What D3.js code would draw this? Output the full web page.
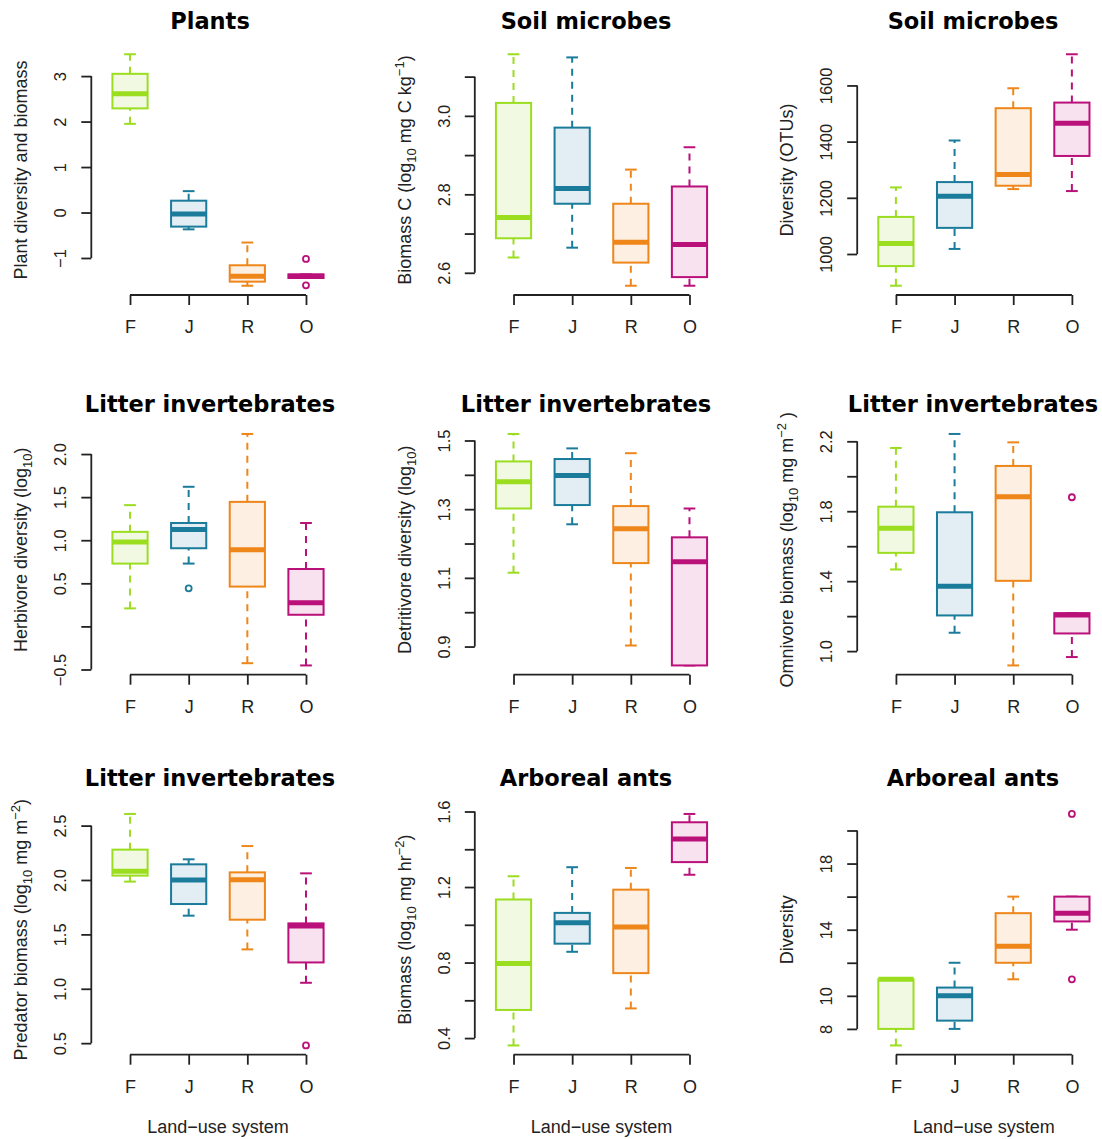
<!DOCTYPE html>
<html><head><meta charset="utf-8">
<script src="https://cdn.jsdelivr.net/npm/d3@7"></script>
<style>
body{margin:0;background:#fff}
text{font-family:"Liberation Sans",Arial,sans-serif;fill:#222}
.title{font-family:"DejaVu Sans",Verdana,sans-serif;font-weight:bold;fill:#000}
</style>
</head><body><svg id="c" width="1102" height="1139"></svg>
<script>
// ---------- data ----------
const categories = ["F", "J", "R", "O"];
const strokeColors = ["#9BDD1F", "#1A7B9B", "#EE861A", "#BA107A"];
const fillColors = ["#F2F9E3", "#E3EEF4", "#FDF0E3", "#F8E2EF"];
const xAxisTitle = "Land\u2212use system";

// each row: [lower whisker, Q1, median, Q3, upper whisker] for F, J, R, O
const plantsStats = [[1.95, 2.29, 2.61, 3.05, 3.48], [-0.37, -0.31, -0.03, 0.26, 0.47], [-1.61, -1.52, -1.40, -1.16, -0.66], [-1.44, -1.44, -1.40, -1.36, -1.36]];
const plantsOutliers = [[], [], [], [-1.02, -1.60]];
const plantsTicks = [-1, 0, 1, 2, 3];
const plantsTickLabels = ["\u22121", "0", "1", "2", "3"];

const microbeBiomassStats = [[2.639, 2.688, 2.741, 3.033, 3.157], [2.664, 2.776, 2.815, 2.970, 3.149], [2.567, 2.626, 2.678, 2.776, 2.863], [2.567, 2.589, 2.672, 2.820, 2.920]];
const microbeBiomassOutliers = [[], [], [], []];
const microbeBiomassTicks = [2.6, 2.7, 2.8, 2.9, 3.0, 3.1];
const microbeBiomassTickLabels = ["2.6", "", "2.8", "", "3.0", ""];

const microbeDiversityStats = [[887, 957, 1037, 1132, 1237], [1018, 1093, 1206, 1256, 1404], [1231, 1243, 1283, 1519, 1590], [1224, 1349, 1465, 1539, 1711]];
const microbeDiversityOutliers = [[], [], [], []];
const microbeDiversityTicks = [1000, 1200, 1400, 1600];
const microbeDiversityTickLabels = ["1000", "1200", "1400", "1600"];

const herbivoreStats = [[0.209, 0.729, 0.98, 1.097, 1.407], [0.729, 0.907, 1.124, 1.20, 1.62], [-0.427, 0.462, 0.89, 1.445, 2.233], [-0.453, 0.135, 0.275, 0.666, 1.20]];
const herbivoreOutliers = [[], [0.442], [], []];
const herbivoreTicks = [-0.5, 0, 0.5, 1.0, 1.5, 2.0];
const herbivoreTickLabels = ["\u22120.5", "", "0.5", "1.0", "1.5", "2.0"];

const detritivoreStats = [[1.115, 1.302, 1.38, 1.439, 1.519], [1.256, 1.312, 1.398, 1.446, 1.477], [0.903, 1.143, 1.243, 1.309, 1.463], [0.845, 0.845, 1.147, 1.218, 1.302]];
const detritivoreOutliers = [[], [], [], []];
const detritivoreTicks = [0.9, 1.0, 1.1, 1.2, 1.3, 1.4, 1.5];
const detritivoreTickLabels = ["0.9", "", "1.1", "", "1.3", "", "1.5"];

const omnivoreStats = [[1.467, 1.562, 1.703, 1.826, 2.162], [1.105, 1.204, 1.371, 1.794, 2.242], [0.918, 1.402, 1.883, 2.059, 2.194], [0.966, 1.101, 1.207, 1.217, 1.217]];
const omnivoreOutliers = [[], [], [], [1.88]];
const omnivoreTicks = [1.0, 1.2, 1.4, 1.6, 1.8, 2.0, 2.2];
const omnivoreTickLabels = ["1.0", "", "1.4", "", "1.8", "", "2.2"];

const predatorStats = [[1.985, 2.04, 2.08, 2.279, 2.607], [1.672, 1.779, 2.0, 2.144, 2.19], [1.362, 1.635, 2.003, 2.07, 2.312], [1.055, 1.242, 1.576, 1.601, 2.061]];
const predatorOutliers = [[], [], [], [0.479]];
const predatorTicks = [0.5, 1.0, 1.5, 2.0, 2.5];
const predatorTickLabels = ["0.5", "1.0", "1.5", "2.0", "2.5"];

const antBiomassStats = [[0.361, 0.549, 0.795, 1.134, 1.257], [0.857, 0.9, 1.011, 1.063, 1.305], [0.557, 0.744, 0.988, 1.186, 1.301], [1.265, 1.332, 1.455, 1.543, 1.587]];
const antBiomassOutliers = [[], [], [], []];
const antBiomassTicks = [0.4, 0.6, 0.8, 1.0, 1.2, 1.4, 1.6];
const antBiomassTickLabels = ["0.4", "", "0.8", "", "1.2", "", "1.6"];

const antDiversityStats = [[7, 8, 11, 11, 11], [8, 8.5, 10, 10.5, 12], [11, 12, 13, 15, 16], [14, 14.5, 15, 16, 16]];
const antDiversityOutliers = [[], [], [], [21, 11]];
const antDiversityTicks = [8, 10, 12, 14, 16, 18, 20];
const antDiversityTickLabels = ["8", "10", "", "14", "", "18", ""];

const panelTitles = ["Plants", "Soil microbes", "Soil microbes", "Litter invertebrates", "Litter invertebrates", "Litter invertebrates", "Litter invertebrates", "Arboreal ants", "Arboreal ants"];
// y-axis titles as [text, kind] segments (kind: "", "sub", "sup")
const yTitles = [
  [["Plant diversity and biomass", ""]],
  [["Biomass C (log", ""], ["10", "sub"], [" mg C kg", ""], ["\u22121", "sup"], [")", ""]],
  [["Diversity (OTUs)", ""]],
  [["Herbivore diversity (log", ""], ["10", "sub"], [")", ""]],
  [["Detritivore diversity (log", ""], ["10", "sub"], [")", ""]],
  [["Omnivore biomass (log", ""], ["10", "sub"], ["  mg m", ""], ["\u22122", "sup"], [" )", ""]],
  [["Predator biomass (log", ""], ["10", "sub"], [" mg m", ""], ["\u22122", "sup"], [")", ""]],
  [["Biomass (log", ""], ["10", "sub"], [" mg hr", ""], ["\u22122", "sup"], [")", ""]],
  [["Diversity", ""]]
];

const panels = [
  {stats: plantsStats, out: plantsOutliers, ticks: plantsTicks, labels: plantsTickLabels},
  {stats: microbeBiomassStats, out: microbeBiomassOutliers, ticks: microbeBiomassTicks, labels: microbeBiomassTickLabels},
  {stats: microbeDiversityStats, out: microbeDiversityOutliers, ticks: microbeDiversityTicks, labels: microbeDiversityTickLabels},
  {stats: herbivoreStats, out: herbivoreOutliers, ticks: herbivoreTicks, labels: herbivoreTickLabels},
  {stats: detritivoreStats, out: detritivoreOutliers, ticks: detritivoreTicks, labels: detritivoreTickLabels},
  {stats: omnivoreStats, out: omnivoreOutliers, ticks: omnivoreTicks, labels: omnivoreTickLabels},
  {stats: predatorStats, out: predatorOutliers, ticks: predatorTicks, labels: predatorTickLabels},
  {stats: antBiomassStats, out: antBiomassOutliers, ticks: antBiomassTicks, labels: antBiomassTickLabels},
  {stats: antDiversityStats, out: antDiversityOutliers, ticks: antDiversityTicks, labels: antDiversityTickLabels}
];

// ---------- layout ----------
const colLeft = [91.3, 474.8, 857.2];
const plotW = 253.4;
const rowBottom = [295, 674.7, 1054.7];
const plotH = 250;
const titleX = [210, 586, 973];
const titleY = [29, 412, 786];
const axisColor = "#222";

const svg = d3.select("#c");

panels.forEach((p, idx) => {
  const col = idx % 3, row = Math.floor(idx / 3);
  const left = colLeft[col], bottom = rowBottom[row], top = bottom - plotH;
  const x = d3.scaleLinear().domain([0.34, 4.66]).range([left, left + plotW]);
  const allVals = p.stats.flat().concat(p.out.flat());
  const [mn, mx] = d3.extent(allVals);
  const pad = (mx - mn) * 0.04;
  const y = d3.scaleLinear().domain([mn - pad, mx + pad]).range([bottom, top]);
  const g = svg.append("g");

  const boxW = 0.6, stapleW = 0.2;
  p.stats.forEach((s, i) => {
    const [lo, q1, med, q3, hi] = s;
    const cx = x(i + 1);
    const c = strokeColors[i];
    const hw = (x(boxW) - x(0)) / 2, sw = (x(stapleW) - x(0)) / 2;
    const dash = "7,6";
    if (hi > q3) g.append("line").attr("x1", cx).attr("x2", cx).attr("y1", y(q3)).attr("y2", y(hi))
      .attr("stroke", c).attr("stroke-width", 2).attr("stroke-dasharray", dash);
    if (lo < q1) g.append("line").attr("x1", cx).attr("x2", cx).attr("y1", y(lo)).attr("y2", y(q1))
      .attr("stroke", c).attr("stroke-width", 2).attr("stroke-dasharray", dash);
    [lo, hi].forEach(v => g.append("line").attr("x1", cx - sw).attr("x2", cx + sw).attr("y1", y(v)).attr("y2", y(v))
      .attr("stroke", c).attr("stroke-width", 2));
    g.append("rect").attr("x", cx - hw).attr("width", 2 * hw).attr("y", y(q3)).attr("height", Math.max(0.5, y(q1) - y(q3)))
      .attr("fill", fillColors[i]).attr("stroke", c).attr("stroke-width", 2);
    g.append("line").attr("x1", cx - hw).attr("x2", cx + hw).attr("y1", y(med)).attr("y2", y(med))
      .attr("stroke", c).attr("stroke-width", 5);
    p.out[i].forEach(v => g.append("circle").attr("cx", cx).attr("cy", y(v)).attr("r", 3)
      .attr("fill", "none").attr("stroke", c).attr("stroke-width", 1.8));
  });

  // y axis
  const ya = g.append("g").attr("transform", `translate(${left},0)`)
    .call(d3.axisLeft(y).tickValues(p.ticks).tickFormat((d, i) => p.labels[i]).tickSize(10).tickSizeOuter(0));
  ya.select(".domain").remove();
  ya.append("line").attr("x1", 0).attr("x2", 0).attr("y1", y(p.ticks[0])).attr("y2", y(p.ticks[p.ticks.length - 1]))
    .attr("stroke", axisColor).attr("stroke-width", 1.8);
  ya.selectAll(".tick line").attr("stroke", axisColor).attr("stroke-width", 1.8);
  ya.selectAll(".tick text").attr("x", null).attr("dy", null).attr("text-anchor", "middle")
    .attr("transform", "translate(-25,0) rotate(-90)")
    .style("font-family", '"Liberation Sans",Arial,sans-serif').style("font-size", "16.5px").attr("fill", axisColor);

  // x axis
  const xa = g.append("g").attr("transform", `translate(0,${bottom})`)
    .call(d3.axisBottom(x).tickValues([1, 2, 3, 4]).tickFormat(d => categories[d - 1]).tickSize(10).tickSizeOuter(0));
  xa.select(".domain").remove();
  xa.append("line").attr("x1", x(1)).attr("x2", x(4)).attr("y1", 0).attr("y2", 0)
    .attr("stroke", axisColor).attr("stroke-width", 1.8);
  xa.selectAll(".tick line").attr("stroke", axisColor).attr("stroke-width", 1.8);
  xa.selectAll(".tick text").attr("y", 38).attr("dy", null)
    .style("font-family", '"Liberation Sans",Arial,sans-serif').style("font-size", "18px").attr("fill", axisColor);

  // title
  g.append("text").attr("class", "title").attr("x", titleX[col]).attr("y", titleY[row])
    .attr("text-anchor", "middle").style("font-size", "22.5px").text(panelTitles[idx]);

  // y title
  const yt = g.append("text").attr("text-anchor", "middle").style("font-size", "18px")
    .attr("transform", `translate(${left - 64},${(top + bottom) / 2}) rotate(-90)`);
  let shift = 0;
  yTitles[idx].forEach(([t, kind]) => {
    const target = kind === "sub" ? 5 : kind === "sup" ? -7 : 0;
    const ts = yt.append("tspan").attr("dy", target - shift).text(t);
    if (kind) ts.style("font-size", "13px");
    shift = target;
  });

  // x title on bottom row
  if (row === 2) {
    g.append("text").attr("x", (x.range()[0] + x.range()[1]) / 2).attr("y", bottom + 78.5)
      .attr("text-anchor", "middle").style("font-size", "18px").text(xAxisTitle);
  }
});
</script>
</body></html>
